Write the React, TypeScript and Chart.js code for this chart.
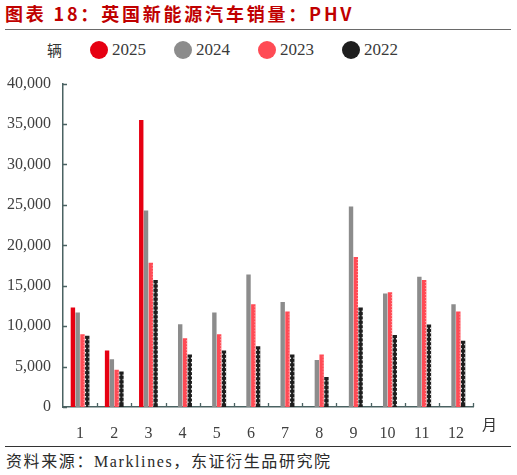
import React, { useEffect, useRef } from "react";
import { Chart, registerables } from "chart.js";

Chart.register(...registerables);

const months = ["1", "2", "3", "4", "5", "6", "7", "8", "9", "10", "11", "12"];
const seriesNames = ["2025", "2024", "2023", "2022"];
const seriesColors = ["#e60012", "#8c8c8c", "#ff4b55", "#1e1e1e"];

const sales2025 = [12300, 7000, 35500, null, null, null, null, null, null, null, null, null];
const sales2024 = [11700, 5900, 24300, 10250, 11700, 16400, 13000, 5800, 24800, 14050, 16100, 12700];
const sales2023 = [9000, 4600, 17850, 8500, 9000, 12700, 11800, 6500, 18550, 14200, 15700, 11800];
const sales2022 = [8800, 4400, 15700, 6500, 7000, 7500, 6500, 3700, 12300, 8900, 10200, 8200];

const yTicks = [0, 5000, 10000, 15000, 20000, 25000, 30000, 35000, 40000];

const axisColor = "#4a6262";
const serif = "'Liberation Serif', 'DejaVu Serif', serif";
const cjk = "'Noto Sans CJK SC', sans-serif";

// small inward ticks on both axes + dotted edges on 2023/2022 bars
const decorPlugin = {
  id: "decor",
  afterDatasetsDraw(chart: any) {
    const ctx = chart.ctx;
    ctx.save();
    // 2023: light dots on right edge
    chart.getDatasetMeta(2).data.forEach((bar: any) => {
      if (bar.y == null || isNaN(bar.y)) return;
      const right = bar.x + bar.width / 2;
      ctx.fillStyle = "rgba(255,255,255,0.55)";
      for (let y = bar.y + 2; y < bar.base - 1; y += 3) {
        ctx.fillRect(right - 1.2, y, 1, 1);
      }
    });
    // 2022: white notches on both edges
    chart.getDatasetMeta(3).data.forEach((bar: any) => {
      if (bar.y == null || isNaN(bar.y)) return;
      const left = bar.x - bar.width / 2;
      const right = bar.x + bar.width / 2;
      ctx.fillStyle = "#ffffff";
      for (let y = bar.y + 3; y < bar.base - 2; y += 4.4) {
        ctx.fillRect(left, y, 1, 1.5);
        ctx.fillRect(right - 1, y, 1, 1.5);
      }
    });
    ctx.restore();
  },
  afterDraw(chart: any) {
    const ctx = chart.ctx;
    const xs = chart.scales.x;
    const ys = chart.scales.y;
    ctx.save();
    ctx.strokeStyle = axisColor;
    ctx.lineWidth = 1.3;
    ctx.beginPath();
    yTicks.forEach((v) => {
      const py = Math.round(ys.getPixelForValue(v)) + 0.5;
      ctx.moveTo(xs.left, py);
      ctx.lineTo(xs.left + 4, py);
    });
    const step = xs.width / months.length;
    for (let i = 1; i <= months.length; i++) {
      const px = Math.round(xs.left + i * step) + 0.5;
      ctx.moveTo(px, ys.bottom);
      ctx.lineTo(px, ys.bottom - 4);
    }
    ctx.stroke();
    ctx.restore();
  },
};

const ChartCanvas = () => {
  const chartRef = useRef<HTMLCanvasElement | null>(null);
  const chartInstance = useRef<Chart | null>(null);

  useEffect(() => {
    if (chartInstance.current) chartInstance.current.destroy();
    const ctx = chartRef.current?.getContext("2d");
    const allData = [sales2025, sales2024, sales2023, sales2022];

    if (ctx) {
      chartInstance.current = new Chart(ctx, {
        type: "bar",
        data: {
          labels: months,
          datasets: seriesNames.map((name, i) => ({
            label: name,
            data: allData[i],
            backgroundColor: seriesColors[i],
            borderWidth: 0,
            categoryPercentage: 0.56,
            barPercentage: 0.92,
          })),
        },
        options: {
          responsive: false,
          animation: false,
          layout: { padding: { left: 0, right: 44, top: 13, bottom: 0 } },
          plugins: {
            legend: { display: false },
            tooltip: { enabled: false },
          },
          scales: {
            x: {
              grid: { display: false },
              border: { display: true, color: axisColor, width: 1.5 },
              ticks: {
                color: "#404040",
                font: { family: serif, size: 16 },
                padding: 9,
                maxRotation: 0,
              },
              afterFit: (s: any) => {
                s.height = 38;
              },
            },
            y: {
              min: 0,
              max: 40000,
              grid: { display: false },
              border: { display: true, color: axisColor, width: 1.5 },
              ticks: {
                stepSize: 5000,
                color: "#404040",
                font: { family: serif, size: 16 },
                padding: 4,
                callback: (v: any) => Number(v).toLocaleString("en-US"),
              },
              afterFit: (s: any) => {
                s.width = 63;
              },
            },
          },
        },
        plugins: [decorPlugin],
      });
    }

    return () => {
      if (chartInstance.current) chartInstance.current.destroy();
    };
  }, []);

  return (
    <canvas
      ref={chartRef}
      width={517}
      height={375}
      style={{ position: "absolute", left: 0, top: 70, width: 517, height: 375 }}
    ></canvas>
  );
};

const App = () => {
  return (
    <div
      style={{
        position: "fixed",
        left: 0,
        top: 0,
        width: 517,
        height: 475,
        background: "#fff",
        overflow: "hidden",
      }}
    >
      <div
        style={{
          position: "absolute",
          left: 5,
          top: 1,
          fontFamily: cjk,
          fontWeight: 700,
          fontSize: 18,
          letterSpacing: 2.8,
          color: "#c00000",
          whiteSpace: "nowrap",
          lineHeight: "24px",
        }}
      >
        图表 18：英国新能源汽车销量：PHV
      </div>
      <div
        style={{
          position: "absolute",
          left: 5,
          top: 29,
          width: 506,
          height: 0,
          borderTop: "1.5px solid #6a6a6a",
        }}
      />
      <div
        style={{
          position: "absolute",
          left: 47,
          top: 39,
          fontFamily: cjk,
          fontSize: 15,
          color: "#333",
          lineHeight: "22px",
        }}
      >
        辆
      </div>
      {seriesNames.map((name, i) => (
        <div
          key={name}
          style={{
            position: "absolute",
            left: 90 + i * 84,
            top: 40,
            display: "flex",
            alignItems: "center",
            height: 20,
          }}
        >
          <span
            style={{
              display: "inline-block",
              width: 18,
              height: 18,
              borderRadius: "50%",
              background: seriesColors[i],
              marginRight: 4,
            }}
          />
          <span style={{ fontFamily: serif, fontSize: 17, color: "#3a3a3a" }}>{name}</span>
        </div>
      ))}
      <ChartCanvas />
      <div
        style={{
          position: "absolute",
          left: 482,
          top: 414,
          fontFamily: cjk,
          fontSize: 15,
          color: "#333",
          lineHeight: "20px",
        }}
      >
        月
      </div>
      <div
        style={{
          position: "absolute",
          left: 5,
          top: 446,
          width: 506,
          height: 0,
          borderTop: "1.2px solid #333",
        }}
      />
      <div
        style={{
          position: "absolute",
          left: 6,
          top: 451,
          fontFamily: "'Liberation Serif', 'Noto Sans CJK SC', serif",
          fontSize: 16,
          letterSpacing: 1.6,
          color: "#2a2a2a",
          whiteSpace: "nowrap",
          lineHeight: "22px",
        }}
      >
        资料来源：Marklines，东证衍生品研究院
      </div>
    </div>
  );
};

export default App;
